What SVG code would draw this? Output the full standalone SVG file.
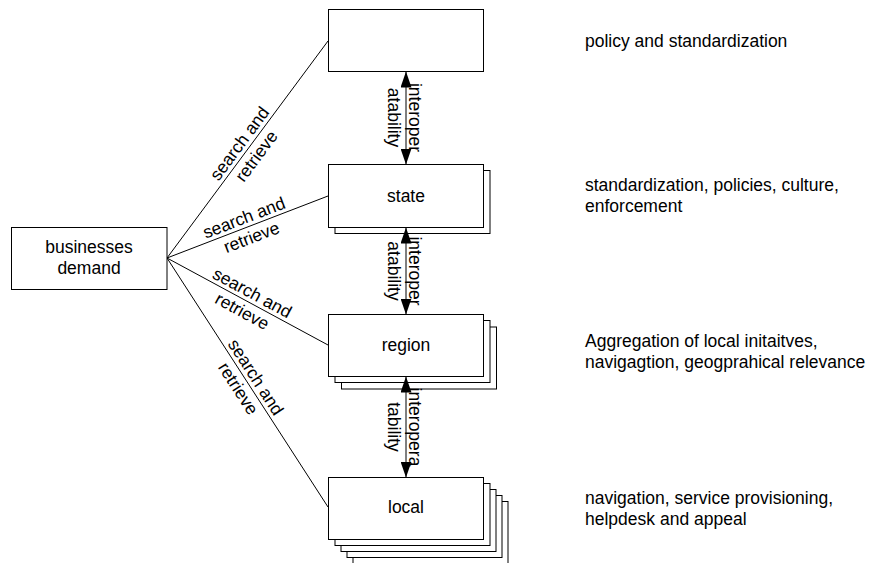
<svg xmlns="http://www.w3.org/2000/svg" width="869" height="563" viewBox="0 0 869 563">
<style>
  text { font-family: "Liberation Sans", Arial, sans-serif; font-size: 17.5px; fill: #000; }
  .box { fill: #fff; stroke: #000; stroke-width: 1; }
  .mid { text-anchor: middle; }
  .conn { stroke: #000; stroke-width: 1; fill: none; }
  .arr { stroke: #000; stroke-width: 1; fill: none; marker-start: url(#ah); marker-end: url(#ah); }
</style>
<defs>
  <marker id="ah" viewBox="0 0 16 11" refX="16" refY="5.5" markerWidth="16" markerHeight="11" markerUnits="userSpaceOnUse" orient="auto-start-reverse">
    <path d="M0,0 L16,5.5 L0,11 Z" fill="#000"/>
  </marker>
</defs>
<rect width="869" height="563" fill="#fff"/>

<g id="connectors">
  <line class="conn" x1="167" y1="258" x2="328" y2="41"/>
  <line class="conn" x1="167" y1="258" x2="328" y2="196"/>
  <line class="conn" x1="167" y1="258" x2="328" y2="345"/>
  <line class="conn" x1="167" y1="258" x2="328" y2="507"/>
  <g transform="translate(247.5,149.5) rotate(-53.4)">
    <text class="mid" x="0" y="-4">search and</text>
    <text class="mid" x="0" y="17">retrieve</text>
  </g>
  <g transform="translate(247.5,227) rotate(-21.06)">
    <text class="mid" x="0" y="-4">search and</text>
    <text class="mid" x="0" y="17">retrieve</text>
  </g>
  <g transform="translate(247.5,301.5) rotate(28.4)">
    <text class="mid" x="0" y="-4">search and</text>
    <text class="mid" x="0" y="17">retrieve</text>
  </g>
  <g transform="translate(247.5,382.5) rotate(57.1)">
    <text class="mid" x="0" y="-4">search and</text>
    <text class="mid" x="0" y="17">retrieve</text>
  </g>
</g>

<g id="node-businesses">
  <rect class="box" x="11.5" y="227.5" width="155.5" height="62"/>
  <text class="mid" x="89" y="253">businesses</text>
  <text class="mid" x="89" y="274">demand</text>
</g>

<g id="node-national">
  <rect class="box" x="328.5" y="9.5" width="155" height="62"/>
</g>

<g id="node-state">
  <rect class="box" x="335" y="170.5" width="155" height="63"/>
  <rect class="box" x="328.5" y="164.5" width="155" height="63"/>
  <text class="mid" x="406" y="202">state</text>
</g>

<g id="node-region">
  <rect class="box" x="341.5" y="327" width="155" height="62"/>
  <rect class="box" x="335" y="320.5" width="155" height="62"/>
  <rect class="box" x="328.5" y="314.5" width="155" height="62"/>
  <text class="mid" x="406" y="351">region</text>
</g>

<g id="node-local">
  <rect class="box" x="353" y="501.5" width="155" height="62"/>
  <rect class="box" x="347" y="495.5" width="155" height="62"/>
  <rect class="box" x="341" y="489.5" width="155" height="62"/>
  <rect class="box" x="335" y="483.5" width="155" height="62"/>
  <rect class="box" x="328.5" y="477.5" width="155" height="62"/>
  <text class="mid" x="406" y="513">local</text>
</g>

<g id="interop">
  <line class="arr" x1="406" y1="71.5" x2="406" y2="164.5"/>
  <line class="arr" x1="406" y1="227.5" x2="406" y2="314.5"/>
  <line class="arr" x1="406" y1="376.5" x2="406" y2="477.5"/>
  <g transform="translate(406,117.5) rotate(90)">
    <text class="mid" x="0" y="-3">interoper</text>
    <text class="mid" x="0" y="18">atability</text>
  </g>
  <g transform="translate(406,271) rotate(90)">
    <text class="mid" x="0" y="-3">interoper</text>
    <text class="mid" x="0" y="18">atability</text>
  </g>
  <g transform="translate(406,427) rotate(90)">
    <text class="mid" x="0" y="-3">interopera</text>
    <text class="mid" x="0" y="18">tability</text>
  </g>
</g>

<g id="descriptions">
  <text x="585" y="47">policy and standardization</text>
  <text x="585" y="191">standardization, policies, culture,</text>
  <text x="585" y="212">enforcement</text>
  <text x="585" y="347">Aggregation of local initaitves,</text>
  <text x="585" y="368">navigagtion, geogprahical relevance</text>
  <text x="585" y="504">navigation, service provisioning,</text>
  <text x="585" y="525">helpdesk and appeal</text>
</g>
</svg>
